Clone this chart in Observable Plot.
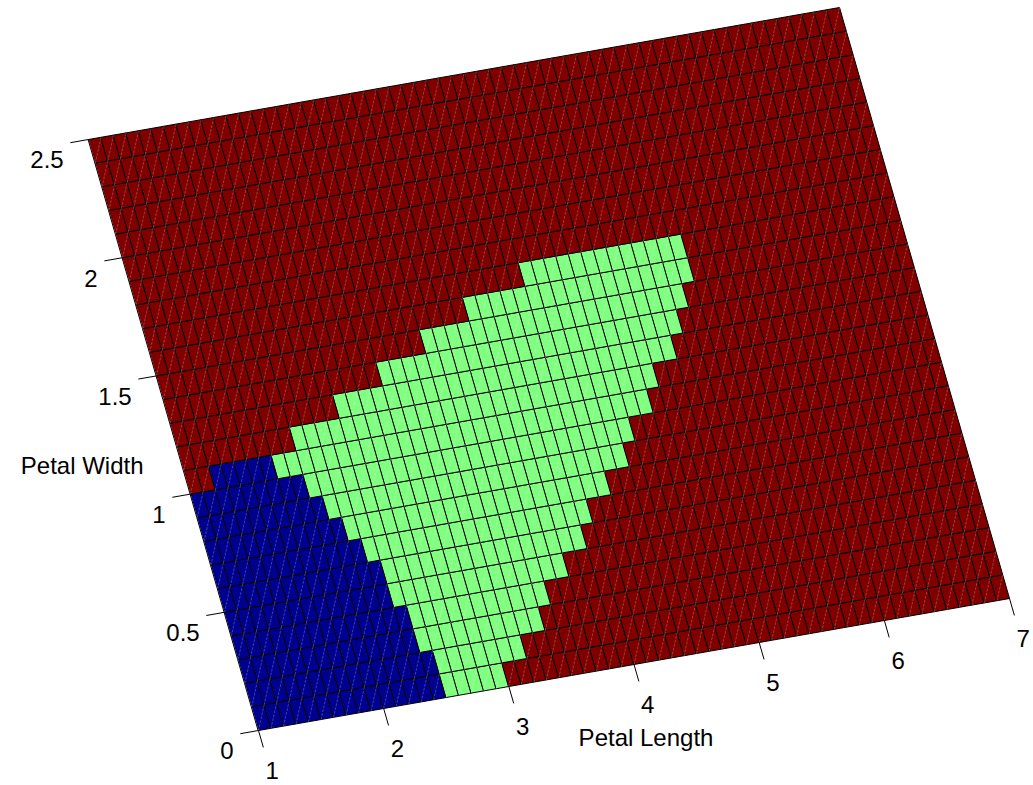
<!DOCTYPE html>
<html>
<head>
<meta charset="utf-8">
<script src="https://cdn.jsdelivr.net/npm/d3@7"></script>
<script src="https://cdn.jsdelivr.net/npm/@observablehq/plot@0.6"></script>
<style>
  html, body { margin: 0; padding: 0; background: #fff; }
  #chart { position: absolute; left: 0; top: 0; }
</style>
</head>
<body>
<div id="chart"></div>
<script>
// Predicted iris species over a grid of petal sizes (0.1 cm cells)
const classes = ["setosa", "versicolor", "virginica"];
const classColors = ["#00008f", "#80ff80", "#800000"];

const lengthRange = [1, 7];
const widthRange = [0, 2.5];
const lengthTicks = [1, 2, 3, 4, 5, 6, 7];
const lengthTickLabels = ["1", "2", "3", "4", "5", "6", "7"];
const widthTicks = [0, 0.5, 1, 1.5, 2, 2.5];
const widthTickLabels = ["0", "0.5", "1", "1.5", "2", "2.5"];

// One entry per grid row (lower edge of the petal-width band).
const rowWidth = [0.0, 0.1, 0.2, 0.3, 0.4, 0.5, 0.6, 0.7, 0.8, 0.9, 1.0, 1.1, 1.2,
                  1.3, 1.4, 1.5, 1.6, 1.7, 1.8, 1.9, 2.0, 2.1, 2.2, 2.3, 2.4];
// Petal-length span of each species within the row; the rest is virginica.
const setosaFrom = [1.0, 1.0, 1.0, 1.0, 1.0, 1.0, 1.0, 1.0, 1.0, 1.0, 1.2, null, null,
                    null, null, null, null, null, null, null, null, null, null, null, null];
const setosaTo = [2.5, 2.5, 2.4, 2.4, 2.3, 2.3, 2.2, 2.1, 2.0, 1.9, 1.7, null, null,
                  null, null, null, null, null, null, null, null, null, null, null, null];
const versicolorFrom = [2.5, 2.5, 2.4, 2.4, 2.3, 2.3, 2.2, 2.1, 2.0, 1.9, 1.7, 1.9, 2.3,
                        2.7, 3.1, 3.5, 4.0, null, null, null, null, null, null, null, null];
const versicolorTo = [3.0, 3.2, 3.4, 3.5, 3.7, 3.9, 4.0, 4.2, 4.4, 4.5, 4.7, 4.8, 5.0,
                      5.1, 5.2, 5.3, 5.3, null, null, null, null, null, null, null, null];

const step = 0.1;
const nCols = Math.round((lengthRange[1] - lengthRange[0]) / step);

function speciesAt(j, mid) {
  if (setosaFrom[j] != null && mid > setosaFrom[j] && mid < setosaTo[j]) return "setosa";
  if (versicolorFrom[j] != null && mid > versicolorFrom[j] && mid < versicolorTo[j]) return "versicolor";
  return "virginica";
}

const cells = [];
const diagonals = [];
rowWidth.forEach((w, j) => {
  for (let i = 0; i < nCols; i++) {
    const l = lengthRange[0] + i * step;
    const species = speciesAt(j, l + step / 2);
    cells.push({
      type: "Feature",
      properties: {species},
      geometry: {type: "Polygon", coordinates: [[[l, w], [l + step, w], [l + step, w + step], [l, w + step], [l, w]]]}
    });
    diagonals.push([[l, w], [l + step, w + step]]);
  }
});

// Oblique view of the (length, width) plane.
const view = {origin: [258, 730], lengthAxis: [125.17, -22.0], widthAxis: [-68.0, -236.4]};
const tilted = d3.geoTransform({
  point(l, w) {
    const u = l - lengthRange[0];
    this.stream.point(
      view.origin[0] + u * view.lengthAxis[0] + w * view.widthAxis[0],
      view.origin[1] + u * view.lengthAxis[1] + w * view.widthAxis[1]
    );
  }
});

const tickLen = {length: 0.142, width: 0.07};
const widthTickLines = {
  type: "MultiLineString",
  coordinates: widthTicks.map(w => [[lengthRange[0], w], [lengthRange[0] - tickLen.length, w]])
};
const lengthTickLines = {
  type: "MultiLineString",
  coordinates: lengthTicks.map(l => [[l, widthRange[0]], [l, widthRange[0] - tickLen.width]])
};

const font = "'Liberation Sans', Arial, Helvetica, sans-serif";

const chart = Plot.plot({
  width: 1033,
  height: 785,
  margin: 0,
  projection: tilted,
  color: {domain: classes, range: classColors},
  style: {background: "#fff", fontFamily: font},
  marks: [
    Plot.geo(cells, {fill: d => d.properties.species, stroke: "#000", strokeWidth: 1}),
    Plot.geo([{type: "MultiLineString", coordinates: diagonals}], {
      stroke: "#fff", strokeOpacity: 0.35, strokeWidth: 0.7, strokeDasharray: "2,2"
    }),
    Plot.geo([widthTickLines, lengthTickLines], {stroke: "#000", strokeWidth: 1}),
    Plot.text(widthTicks, {
      x: () => lengthRange[0] - tickLen.length, y: d => d,
      text: (d, i) => widthTickLabels[i],
      textAnchor: "end", dx: -7, dy: 18, fontSize: 24, fontFamily: font, fill: "#000"
    }),
    Plot.text(lengthTicks, {
      x: d => d, y: () => widthRange[0] - tickLen.width,
      text: (d, i) => lengthTickLabels[i],
      textAnchor: "middle", dx: 9, dy: 24, fontSize: 24, fontFamily: font, fill: "#000"
    }),
    Plot.text(["Petal Length"], {
      x: () => (lengthRange[0] + lengthRange[1]) / 2, y: () => widthRange[0],
      text: d => d, textAnchor: "middle", dx: 12, dy: 74, fontSize: 24, fontFamily: font, fill: "#000"
    }),
    Plot.text(["Petal Width"], {
      x: () => lengthRange[0], y: () => (widthRange[0] + widthRange[1]) / 2,
      text: d => d, textAnchor: "end", dx: -30, dy: 31, fontSize: 24, fontFamily: font, fill: "#000"
    })
  ]
});

document.getElementById("chart").append(chart);
</script>
</body>
</html>
